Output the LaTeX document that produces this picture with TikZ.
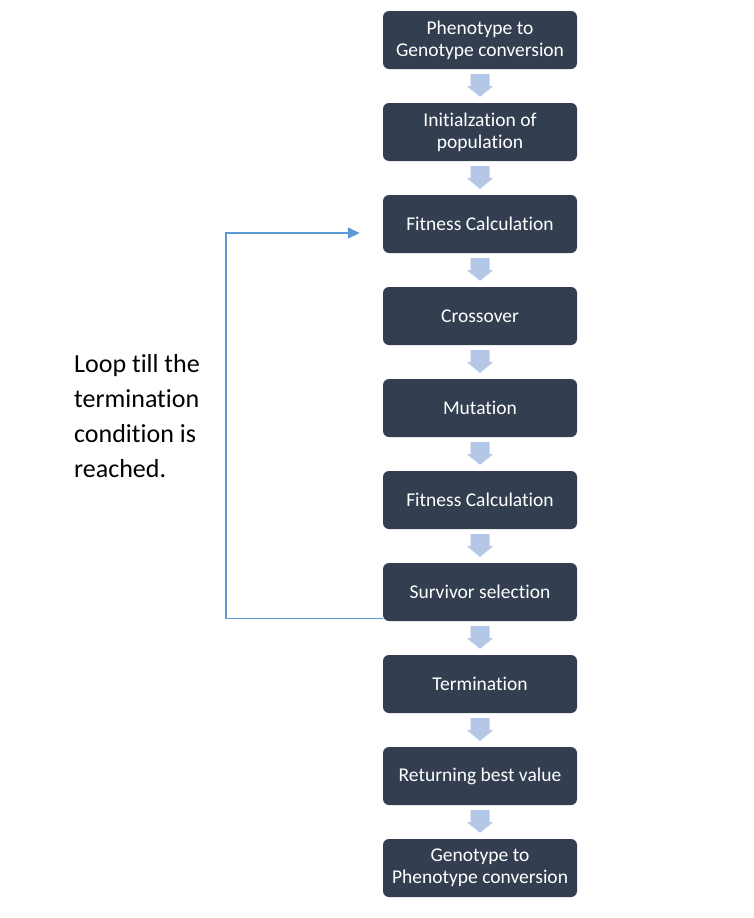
\documentclass[tikz,border=0pt]{standalone}
\usepackage{fontspec}
\setmainfont{Carlito}[Ligatures=NoCommon]
\usetikzlibrary{positioning, calc, arrows.meta}

\definecolor{boxfill}{HTML}{333F50}
\definecolor{stepblue}{HTML}{B4C7E7}
\definecolor{loopblue}{HTML}{5B9BD5}

\begin{document}
\begin{tikzpicture}[x=1pt, y=-1pt, line cap=round, line join=round, >=Triangle,
    node distance=33.6pt,
    stage/.style={draw=none, fill=boxfill, rounded corners=6pt, minimum width=194pt,
        minimum height=58pt, inner sep=2pt, align=center, text=white,
        font=\fontsize{19.5}{22}\selectfont},
    stepdown/.style={fill=stepblue, draw=none}]

    % Canvas
    \useasboundingbox (0,0) rectangle (753,918);

    % Stages
    \node[stage] (p2g) at (480,40) {Phenotype to\\Genotype conversion};
    \node[stage, below=of p2g] (init) {Initialzation of\\population};
    \node[stage, below=of init] (fit1) {Fitness Calculation};
    \node[stage, below=of fit1] (cross) {Crossover};
    \node[stage, below=of cross] (mut) {Mutation};
    \node[stage, below=of mut] (fit2) {Fitness Calculation};
    \node[stage, below=of fit2] (surv) {Survivor selection};
    \node[stage, below=of surv] (term) {Termination};
    \node[stage, below=of term] (best) {Returning best value};
    \node[stage, below=of best] (g2p) {Genotype to\\Phenotype conversion};

    % Block arrows between stages
    \foreach \a/\b in {p2g/init, init/fit1, fit1/cross, cross/mut, mut/fit2,
                       fit2/surv, surv/term, term/best, best/g2p} {
        \fill[stepdown] ($(\a.south)+(-9.5,5)$) -- ++(19,0) -- ++(0,12) -- ++(3.5,0)
            -- ($(\b.north)+(0,-6)$) -- ($(\a.south)+(-13,17)$) -- ++(3.5,0) -- cycle;
    }

    % Loop back
    \coordinate (looptop) at ($(fit1.west)+(-23,9)$);
    \draw[-{Triangle[length=12pt, width=11pt]}, loopblue, line width=1.4pt,
          line cap=butt, line join=miter]
        ($(surv.south west)+(0,-3)$) -- ++(-157,0) |- (looptop);

    % Loop note
    \node[anchor=base west, align=left, inner sep=0pt,
          font=\fontsize{26}{35}\selectfont] (note) at (74,477)
        {Loop till the\\termination\\condition is\\reached.};

\end{tikzpicture}
\end{document}
